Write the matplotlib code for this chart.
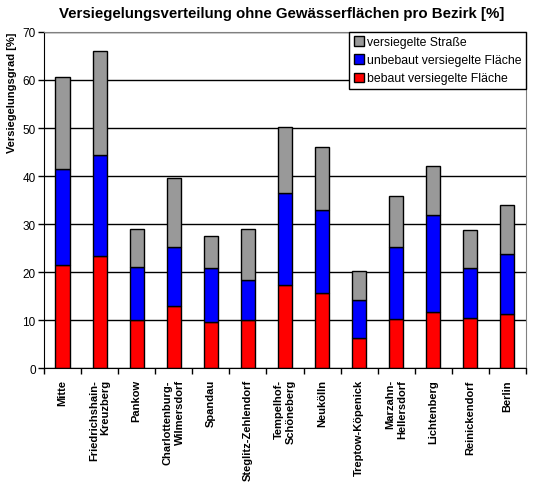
import matplotlib.pyplot as plt
import numpy as np

plt.rcParams['font.family'] = ['Liberation Sans', 'DejaVu Sans']

# district names (x axis)
bezirke = ['Mitte', 'Friedrichshain-\nKreuzberg', 'Pankow', 'Charlottenburg-\nWilmersdorf',
           'Spandau', 'Steglitz-Zehlendorf', 'Tempelhof-\nSchöneberg', 'Neukölln',
           'Treptow-Köpenick', 'Marzahn-\nHellersdorf', 'Lichtenberg', 'Reinickendorf', 'Berlin']

# shares in percent
bebaut = [21.5, 23.4, 10.1, 13.0, 9.6, 10.1, 17.4, 15.7, 6.3, 10.2, 11.7, 10.4, 11.3]
unbebaut = [20.0, 21.0, 11.0, 12.3, 11.3, 8.3, 19.1, 17.3, 7.9, 15.1, 20.1, 10.5, 12.5]
strasse = [19.2, 21.6, 7.8, 14.2, 6.7, 10.5, 13.8, 13.0, 6.1, 10.5, 10.3, 7.8, 10.1]

fig = plt.figure(figsize=(5.34, 4.85), dpi=100)
ax = fig.add_axes([0.0824, 0.239, 0.9026, 0.693])

x = np.arange(len(bezirke))
w = 0.38
b1 = ax.bar(x, bebaut, w, color='#ff0000', edgecolor='black', lw=1.0,
            label='bebaut versiegelte Fläche')
b2 = ax.bar(x, unbebaut, w, bottom=bebaut, color='#0000ff', edgecolor='black', lw=1.0,
            label='unbebaut versiegelte Fläche')
b3 = ax.bar(x, strasse, w, bottom=np.add(bebaut, unbebaut), color='#999999',
            edgecolor='black', lw=1.0, label='versiegelte Straße')

ax.set_xlim(-0.5, len(bezirke) - 0.5)
ax.set_ylim(0, 70)
ax.set_yticks(range(0, 71, 10))
ax.yaxis.grid(True, color='black', lw=1.0)
ax.set_axisbelow(True)

# category ticks sit between the bars
ax.set_xticks(x)
ax.set_xticklabels(bezirke, rotation=90, fontweight='bold', fontsize=8,
                   va='top', ha='center', multialignment='right')
ax.set_xticks(np.arange(len(bezirke) + 1) - 0.5, minor=True)
ax.tick_params(axis='x', which='major', length=0, pad=8)
ax.tick_params(axis='x', which='minor', length=4, width=1, direction='out')
ax.tick_params(axis='y', length=4, width=1, direction='out', labelsize=8.5, pad=2)

for s in ['top', 'right']:
    ax.spines[s].set_color('#808080')
for s in ['left', 'bottom']:
    ax.spines[s].set_color('black')

ax.text(-0.066, 1.0, 'Versiegelungsgrad [%]', transform=ax.transAxes, rotation=90,
        ha='center', va='top', fontsize=8, fontweight='bold')
fig.text(0.528, 0.972, 'Versiegelungsverteilung ohne Gewässerflächen pro Bezirk [%]',
         ha='center', va='center', fontsize=10.8, fontweight='bold')

leg = ax.legend(handles=[b3, b2, b1], loc='upper right', bbox_to_anchor=(1.0, 1.0),
                fontsize=8.8, frameon=True, fancybox=False, handlelength=0.8,
                handleheight=0.8, handletextpad=0.3, borderaxespad=0, labelspacing=0.5,
                borderpad=0.35)
leg.get_frame().set_edgecolor('black')
leg.get_frame().set_linewidth(1.0)
leg.get_frame().set_alpha(1)

fig.savefig('out.png', dpi=100)
